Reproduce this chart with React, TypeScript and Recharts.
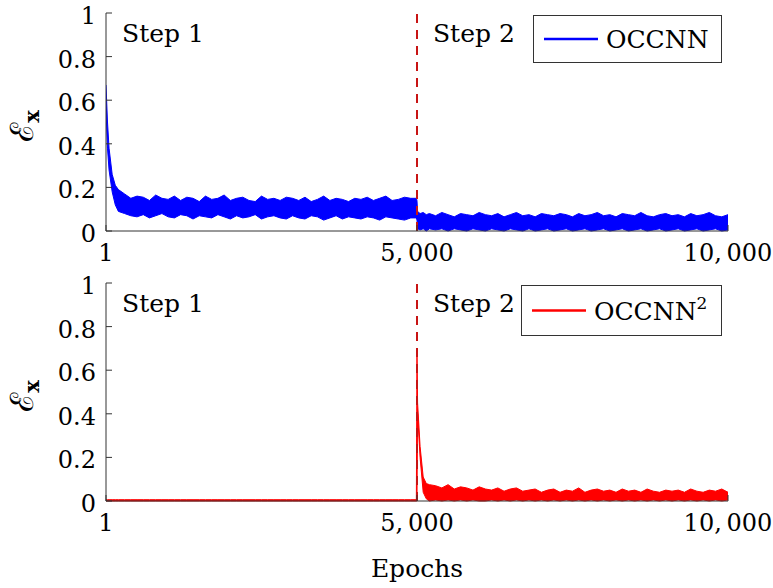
import React from 'react';
import { ComposedChart, Area, XAxis, YAxis, ReferenceLine } from 'recharts';

const FONT = '"DejaVu Serif"';
const FS_TICK = 24;
const FS_TEXT = 25;
const AXIS = '#333';
const txt = { fontFamily: FONT };

// sampled epochs (shared by both panels)
const epochs = [
  1, 25, 50, 100, 150, 200,
  300, 400, 500, 600, 700, 800, 900, 1000,
  1100, 1200, 1300, 1400, 1500, 1600, 1700, 1800, 1900, 2000,
  2100, 2200, 2300, 2400, 2500, 2600, 2700, 2800, 2900, 3000,
  3100, 3200, 3300, 3400, 3500, 3600, 3700, 3800, 3900, 4000,
  4100, 4200, 4300, 4400, 4500, 4600, 4700, 4800, 4900,
  4990, 5000, 5010, 5050, 5100, 5150, 5200,
  5300, 5400, 5500, 5600, 5700, 5800, 5900, 6000,
  6100, 6200, 6300, 6400, 6500, 6600, 6700, 6800, 6900, 7000,
  7100, 7200, 7300, 7400, 7500, 7600, 7700, 7800, 7900, 8000,
  8100, 8200, 8300, 8400, 8500, 8600, 8700, 8800, 8900, 9000,
  9100, 9200, 9300, 9400, 9500, 9600, 9700, 9800, 9900, 10000,
];

// OCCNN: upper / lower edge of the noisy band
const occnnHi = [
  0.67, 0.5, 0.38, 0.26, 0.21, 0.19,
  0.17, 0.15, 0.16, 0.155, 0.14, 0.165, 0.15, 0.145,
  0.16, 0.14, 0.155, 0.15, 0.135, 0.16, 0.145, 0.15, 0.165, 0.14,
  0.15, 0.155, 0.14, 0.135, 0.16, 0.145, 0.15, 0.14, 0.155, 0.15,
  0.14, 0.155, 0.135, 0.145, 0.16, 0.14, 0.15, 0.145, 0.135, 0.15,
  0.145, 0.155, 0.14, 0.15, 0.16, 0.14, 0.145, 0.155, 0.15,
  0.15, 0.14, 0.09, 0.08, 0.085, 0.075, 0.08,
  0.07, 0.085, 0.075, 0.065, 0.08, 0.075, 0.07, 0.085,
  0.075, 0.07, 0.08, 0.065, 0.075, 0.085, 0.07, 0.075, 0.065, 0.08,
  0.075, 0.07, 0.08, 0.075, 0.065, 0.08, 0.07, 0.075, 0.085, 0.07,
  0.075, 0.065, 0.08, 0.075, 0.07, 0.085, 0.07, 0.065, 0.075, 0.08,
  0.07, 0.075, 0.065, 0.08, 0.07, 0.075, 0.085, 0.07, 0.065, 0.075,
];
const occnnLo = [
  0.55, 0.38, 0.28, 0.18, 0.12, 0.09,
  0.08, 0.07, 0.065, 0.075, 0.06, 0.07, 0.08, 0.065,
  0.06, 0.075, 0.07, 0.055, 0.07, 0.065, 0.06, 0.075, 0.065, 0.055,
  0.07, 0.06, 0.065, 0.075, 0.055, 0.065, 0.07, 0.06, 0.055, 0.07,
  0.06, 0.055, 0.07, 0.065, 0.05, 0.06, 0.07, 0.055, 0.065, 0.06,
  0.055, 0.065, 0.06, 0.05, 0.065, 0.06, 0.055, 0.05, 0.06,
  0.06, 0.05, 0.01, 0.005, 0.01, 0.0, 0.01,
  0.005, 0.01, 0.0, 0.01, 0.005, 0.0, 0.01, 0.005,
  0.0, 0.01, 0.005, 0.0, 0.01, 0.005, 0.0, 0.01, 0.0, 0.005,
  0.01, 0.0, 0.005, 0.01, 0.0, 0.005, 0.01, 0.0, 0.005, 0.01,
  0.0, 0.005, 0.01, 0.0, 0.005, 0.01, 0.0, 0.005, 0.01, 0.0,
  0.005, 0.01, 0.0, 0.005, 0.01, 0.0, 0.005, 0.01, 0.0, 0.005,
];

// OCCNN^2: upper / lower edge
const occnn2Hi = [
  0.006, 0.006, 0.006, 0.006, 0.006, 0.006,
  0.006, 0.006, 0.006, 0.006, 0.006, 0.006, 0.006, 0.006,
  0.006, 0.006, 0.006, 0.006, 0.006, 0.006, 0.006, 0.006, 0.006, 0.006,
  0.006, 0.006, 0.006, 0.006, 0.006, 0.006, 0.006, 0.006, 0.006, 0.006,
  0.006, 0.006, 0.006, 0.006, 0.006, 0.006, 0.006, 0.006, 0.006, 0.006,
  0.006, 0.006, 0.006, 0.006, 0.006, 0.006, 0.006, 0.006, 0.006,
  0.006, 0.68, 0.45, 0.25, 0.11, 0.08, 0.075,
  0.07, 0.06, 0.075, 0.055, 0.065, 0.06, 0.05, 0.065,
  0.055, 0.05, 0.06, 0.045, 0.055, 0.06, 0.045, 0.05, 0.055, 0.04,
  0.05, 0.055, 0.04, 0.05, 0.045, 0.06, 0.04, 0.05, 0.055, 0.045,
  0.05, 0.04, 0.055, 0.045, 0.05, 0.04, 0.055, 0.045, 0.04, 0.05,
  0.045, 0.05, 0.04, 0.055, 0.045, 0.04, 0.05, 0.045, 0.055, 0.04,
];
const occnn2Lo = [
  0, 0, 0, 0, 0, 0,
  0, 0, 0, 0, 0, 0, 0, 0,
  0, 0, 0, 0, 0, 0, 0, 0, 0, 0,
  0, 0, 0, 0, 0, 0, 0, 0, 0, 0,
  0, 0, 0, 0, 0, 0, 0, 0, 0, 0,
  0, 0, 0, 0, 0, 0, 0, 0, 0,
  0, 0, 0.4, 0.2, 0.04, 0.01, 0.0,
  0.005, 0.0, 0.005, 0.0, 0.005, 0.0, 0.005, 0.0,
  0.0, 0.005, 0.0, 0.005, 0.0, 0.005, 0.0, 0.005, 0.0, 0.005,
  0.0, 0.005, 0.0, 0.005, 0.0, 0.005, 0.0, 0.005, 0.0, 0.005,
  0.0, 0.005, 0.0, 0.005, 0.0, 0.005, 0.0, 0.005, 0.0, 0.005,
  0.0, 0.005, 0.0, 0.005, 0.0, 0.005, 0.0, 0.005, 0.0, 0.005,
];

const xTicks = [1, 5000, 10000];
const yTicks = [0, 0.2, 0.4, 0.6, 0.8, 1];
const stepSplit = 5000;

const topData = epochs.map((e, i) => ({ epoch: e, band: [occnnLo[i], occnnHi[i]] }));
const bottomData = epochs.map((e, i) => ({ epoch: e, band: [occnn2Lo[i], occnn2Hi[i]] }));

// LaTeX style thousands separator: "5, 000"
const fmtX = (v: number) =>
  v >= 1000 ? `${Math.floor(v / 1000)},\u2009${String(v % 1000).padStart(3, '0')}` : `${v}`;

const BottomTick = (props: any) => {
  const { x, y, payload } = props;
  return (
    <g>
      <line x1={x} x2={x} y1={y} y2={y - 6} stroke={AXIS} />
      <text x={x} y={y + 30} textAnchor="middle" style={txt} fontSize={FS_TICK} fill="#000">
        {fmtX(payload.value)}
      </text>
    </g>
  );
};

const TopTick = (props: any) => {
  const { x, y } = props;
  return <line x1={x} x2={x} y1={y} y2={y + 6} stroke={AXIS} />;
};

const LeftTick = (props: any) => {
  const { x, y, payload } = props;
  return (
    <g>
      <line x1={x} x2={x + 6} y1={y} y2={y} stroke={AXIS} />
      <text x={x - 10} y={y + 11} textAnchor="end" style={txt} fontSize={FS_TICK} fill="#000">
        {payload.value}
      </text>
    </g>
  );
};

const RightTick = (props: any) => {
  const { x, y } = props;
  return <line x1={x - 6} x2={x} y1={y} y2={y} stroke={AXIS} />;
};

const YLabel = (props: any) => {
  const vb = props.viewBox || { x: 0, y: 0, width: 0, height: 0 };
  const cx = 33;
  const cy = vb.y + vb.height / 2 + 4;
  return (
    <text transform={`translate(${cx},${cy}) rotate(-90)`} textAnchor="middle" fill="#000" style={txt}>
      <tspan fontSize={32}>ℰ</tspan>
      <tspan fontSize={21} fontWeight="bold" dy={6}>x</tspan>
    </text>
  );
};

const StepLabel = (props: any) => {
  const vb = props.viewBox || { x: 0, y: 0 };
  return (
    <text x={vb.x + 16} y={vb.y + 29} style={txt} fontSize={FS_TEXT} fill="#000">
      {props.text}
    </text>
  );
};

interface PanelProps {
  data: { epoch: number; band: number[] }[];
  color: string;
  height: number;
  xLabel?: string;
}

const Panel = ({ data, color, height, xLabel }: PanelProps) => (
  <ComposedChart
    width={773}
    height={height}
    data={data}
    margin={{ top: 13, right: 45, bottom: 0, left: 0 }}
  >
    <XAxis
      dataKey="epoch"
      type="number"
      domain={[1, 10000]}
      ticks={xTicks}
      interval={0}
      allowDataOverflow
      height={height - 231}
      tickLine={false}
      tickSize={0}
      tickMargin={0}
      tick={<BottomTick />}
      axisLine={{ stroke: AXIS }}
      label={
        xLabel
          ? { value: xLabel, position: 'insideBottom', offset: 11, style: txt, fontSize: FS_TEXT, fill: '#000' }
          : undefined
      }
    />
    <XAxis
      xAxisId="top"
      orientation="top"
      dataKey="epoch"
      type="number"
      domain={[1, 10000]}
      ticks={xTicks}
      interval={0}
      height={0}
      tickLine={false}
      tickSize={0}
      tickMargin={0}
      tick={<TopTick />}
      axisLine={{ stroke: AXIS }}
    />
    <YAxis
      type="number"
      domain={[0, 1]}
      ticks={yTicks}
      interval={0}
      width={106}
      tickLine={false}
      tickSize={0}
      tickMargin={0}
      tick={<LeftTick />}
      axisLine={{ stroke: AXIS }}
      label={<YLabel />}
    />
    <YAxis
      yAxisId="right"
      orientation="right"
      type="number"
      domain={[0, 1]}
      ticks={yTicks}
      interval={0}
      width={0}
      tickLine={false}
      tickSize={0}
      tickMargin={0}
      tick={<RightTick />}
      axisLine={{ stroke: AXIS }}
    />
    <Area
      dataKey="band"
      type="linear"
      stroke={color}
      strokeWidth={1}
      fill={color}
      fillOpacity={1}
      dot={false}
      activeDot={false}
      isAnimationActive={false}
    />
    <ReferenceLine
      x={stepSplit}
      stroke="#c81414"
      strokeWidth={1.2}
      strokeDasharray="9 7"
      shapeRendering="crispEdges"
    />
    <ReferenceLine x={1} stroke="none" label={<StepLabel text="Step 1" />} />
    <ReferenceLine x={stepSplit} stroke="none" label={<StepLabel text="Step 2" />} />
  </ComposedChart>
);

const LegendBox = ({ left, top, width, height, color, sup }: any) => (
  <svg
    width={width}
    height={height}
    style={{ position: 'absolute', left, top, overflow: 'visible' }}
  >
    <rect x={0.5} y={0.5} width={width - 1} height={height - 1} fill="#fff" stroke={AXIS} />
    <line x1={11} x2={65} y1={height / 2} y2={height / 2} stroke={color} strokeWidth={2.5} />
    <text x={73} y={height / 2 + 9} style={txt} fontSize={FS_TEXT} fill="#000">
      OCCNN
      {sup ? (
        <tspan fontSize={17} dy={-11}>
          {sup}
        </tspan>
      ) : null}
    </text>
  </svg>
);

export default function App() {
  return (
    <div
      style={{
        position: 'absolute',
        left: 0,
        top: 0,
        width: 773,
        height: 588,
        background: '#fff',
      }}
    >
      <div style={{ position: 'absolute', left: 0, top: 0 }}>
        <Panel data={topData} color="#0000ff" height={270} />
      </div>
      <div style={{ position: 'absolute', left: 0, top: 270 }}>
        <Panel data={bottomData} color="#ff0000" height={318} xLabel="Epochs" />
      </div>
      <LegendBox left={533} top={15} width={189} height={48} color="#0000ff" />
      <LegendBox left={521} top={285} width={201} height={51} color="#ff0000" sup="2" />
    </div>
  );
}
